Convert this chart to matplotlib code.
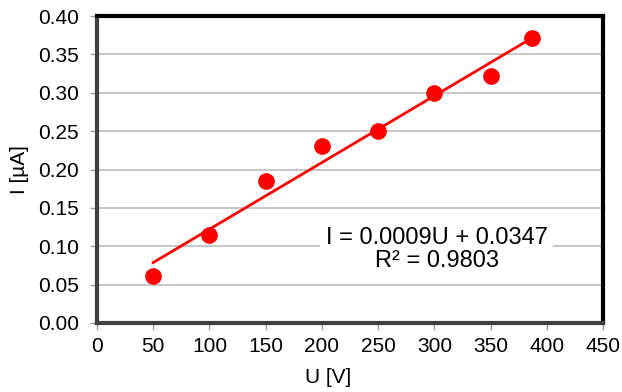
import numpy as np
import matplotlib
matplotlib.use("Agg")
import matplotlib.pyplot as plt

plt.rcParams['font.family'] = ['Liberation Sans', 'DejaVu Sans']

U = [50, 100, 150, 200, 250, 300, 350, 387]
I = [0.061, 0.115, 0.185, 0.231, 0.250, 0.300, 0.322, 0.371]
xticks = [0, 50, 100, 150, 200, 250, 300, 350, 400, 450]
yticks = [0.00, 0.05, 0.10, 0.15, 0.20, 0.25, 0.30, 0.35, 0.40]
eq_text = "I = 0.0009U + 0.0347\nR² = 0.9803"

fig = plt.figure(figsize=(6.22, 3.92), dpi=100)
ax = fig.add_axes([97/622, 1-323/392, (603-97)/622, (323-16)/392])

ax.set_xlim(0, 450)
ax.set_ylim(0, 0.40)
ax.set_xticks(xticks)
ax.set_yticks(yticks)
ax.set_yticklabels([f"{v:.2f}" for v in yticks])
ax.grid(axis='y', color='#bdbdbd', linewidth=1.2)
ax.set_axisbelow(True)

coef = np.polyfit(U, I, 1)
xs = np.array([min(U), max(U)])
ax.plot(xs, np.polyval(coef, xs), color='#ff0000', linewidth=2, zorder=3)
ax.plot(U, I, 'o', color='#ff0000', markersize=11, zorder=4, clip_on=False)

ax.text(302, 0.096, eq_text, ha='center', va='center', fontsize=17,
        linespacing=1.05,
        bbox=dict(facecolor='white', edgecolor='none', pad=4), zorder=5)

for s in ['top', 'right']:
    ax.spines[s].set_color('black')
    ax.spines[s].set_linewidth(3)
for s in ['left', 'bottom']:
    ax.spines[s].set_color('#404040')
    ax.spines[s].set_linewidth(3)

ax.tick_params(axis='both', direction='out', length=5, width=1, color='#a0a0a0',
               labelsize=15)
ax.tick_params(axis='y', pad=8)
ax.tick_params(axis='x', pad=5)
ax.set_xlabel("U [V]", fontsize=15)
ax.set_ylabel("I [µA]", fontsize=15)
ax.xaxis.set_label_coords((328-97)/506, -0.145)
ax.yaxis.set_label_coords(-0.135, 0.5)

fig.savefig("out.png", dpi=100)
